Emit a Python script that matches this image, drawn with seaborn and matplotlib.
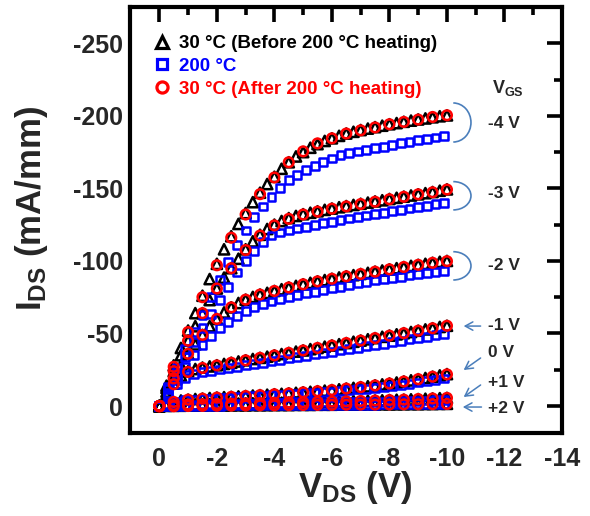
import numpy as np
import pandas as pd
import matplotlib
matplotlib.use("Agg")
import matplotlib.pyplot as plt
import seaborn as sns
from matplotlib.lines import Line2D
from matplotlib.patches import Arc

# ---------------- data ----------------
gates = ["-4 V", "-3 V", "-2 V", "-1 V", "0 V", "+1 V", "+2 V"]

# V_DS sampling of each series
v_before = [0, -0.25, -0.5, -0.75, -1, -1.25, -1.5, -1.75, -2, -2.25, -2.5, -2.75, -3,
            -3.25, -3.5, -3.75, -4, -4.25, -4.5, -4.75, -5, -5.25, -5.5, -5.75, -6,
            -6.25, -6.5, -6.75, -7, -7.25, -7.5, -7.75, -8, -8.25, -8.5, -8.75, -9,
            -9.25, -9.5, -9.75, -10]
v_hot = [0, -0.3, -0.6, -0.9, -1.2, -1.5, -1.8, -2.1, -2.4, -2.7, -3, -3.3, -3.6, -3.9,
         -4.2, -4.5, -4.8, -5.1, -5.4, -5.7, -6, -6.3, -6.6, -6.9, -7.2, -7.5, -7.8,
         -8.1, -8.4, -8.7, -9, -9.3, -9.6, -9.9]
v_after = [0, -0.5, -1, -1.5, -2, -2.5, -3, -3.5, -4, -4.5, -5, -5.5, -6, -6.5, -7,
           -7.5, -8, -8.5, -9, -9.5, -10]

# 30 C, before 200 C heating (triangles)
before_m4 = [0, -14, -28, -40, -52, -64, -76, -87.5, -98, -108, -117, -125.5, -133, -140.5,
             -147, -153, -158, -163.5, -168, -172, -175, -178, -180.5, -182.7, -184.5,
             -186.2, -187.8, -189, -190.2, -191.2, -192.2, -193.2, -194.2, -195, -195.9,
             -196.7, -197.5, -198.2, -199, -199.7, -200.3]
before_m3 = [0, -12.5, -24, -35, -45, -55, -64, -73, -81, -88.5, -95, -101.5, -108, -113.5,
             -118, -122, -125, -127.5, -129.5, -131, -132.2, -133.2, -134.2, -135.2, -136.1,
             -137, -137.8, -138.6, -139.4, -140.2, -141, -141.8, -142.7, -143.5, -144.3,
             -145.1, -145.9, -146.7, -147.5, -148.4, -149.3]
before_m2 = [0, -10, -19, -28, -36, -42.5, -49, -55, -60, -64.5, -68, -71, -73.3, -75.2,
             -76.8, -78, -79.3, -80.5, -81.7, -82.8, -83.9, -84.9, -85.9, -86.8, -87.7,
             -88.6, -89.4, -90.2, -91, -91.8, -92.6, -93.4, -94.2, -95, -95.8, -96.6,
             -97.3, -98, -98.7, -99.4, -100]
before_m1 = [0, -8, -15.5, -21, -24, -25.5, -26.5, -27.3, -28.1, -29, -29.8, -30.7, -31.5,
             -32.4, -33.2, -34, -34.9, -35.8, -36.6, -37.5, -38.3, -39.2, -40, -40.9, -41.7,
             -42.6, -43.4, -44.3, -45.1, -46, -46.8, -47.7, -48.5, -49.4, -50.2, -51,
             -51.9, -52.8, -53.6, -54.5, -55.3]
before_0 = [0, -1.5, -2.8, -3.8, -4.4, -4.8, -5.1, -5.5, -5.8, -6.1, -6.3, -6.6, -6.9, -7.2,
            -7.5, -7.8, -8.1, -8.4, -8.7, -9.1, -9.4, -9.8, -10.2, -10.6, -11, -11.5, -12,
            -12.5, -13, -13.6, -14.2, -14.9, -15.5, -16.2, -16.9, -17.7, -18.5, -19.3,
            -20.2, -21.1, -22]
before_p1 = [0, -0.3, -0.6, -0.8, -1, -1.1, -1.2, -1.3, -1.4, -1.5, -1.6, -1.7, -1.8, -1.9,
             -2, -2.1, -2.2, -2.3, -2.4, -2.5, -2.6, -2.7, -2.8, -2.9, -3, -3.1, -3.2, -3.4,
             -3.5, -3.6, -3.8, -3.9, -4.1, -4.3, -4.4, -4.6, -4.8, -5, -5.2, -5.4, -5.6]
before_p2 = [0, -0.1, -0.2, -0.2, -0.3, -0.3, -0.3, -0.4, -0.4, -0.4, -0.5, -0.5, -0.5,
             -0.6, -0.6, -0.6, -0.7, -0.7, -0.7, -0.8, -0.8, -0.8, -0.9, -0.9, -0.9, -1,
             -1, -1, -1.1, -1.1, -1.1, -1.2, -1.2, -1.2, -1.3, -1.3, -1.3, -1.4, -1.4,
             -1.5, -1.5]

# 200 C (squares)
hot_m4 = [0, -13, -26, -39, -51, -63, -75, -87, -99, -111, -121, -130, -137.5, -144, -150,
          -155.5, -159, -162.5, -165.5, -168.3, -170.6, -172.8, -174.2, -175.4, -176.5,
          -177.6, -178.7, -179.8, -181, -182.1, -183.2, -184.3, -185.1, -186]
hot_m3 = [0, -12, -23, -34, -44, -54, -63.5, -73, -82, -92, -100, -107, -113, -117.5,
          -119.6, -121, -122.3, -123.5, -124.7, -125.9, -127, -128.1, -129.2, -130.3,
          -131.3, -132.3, -133.3, -134.3, -135.2, -136.1, -137, -138, -139, -140]
hot_m2 = [0, -9, -18, -27, -35, -42, -48, -53.5, -58, -62, -65.3, -68, -70.2, -72, -73.6,
          -75, -76.3, -77.6, -78.8, -80, -81.2, -82.3, -83.4, -84.5, -85.5, -86.5, -87.4,
          -88.3, -89.2, -90.1, -90.9, -91.7, -92.5, -93.2]
hot_m1 = [0, -7.5, -15, -19.5, -21.8, -23.3, -24.3, -25.2, -26.1, -27, -28, -28.9, -29.9,
          -30.8, -31.8, -32.7, -33.6, -34.6, -35.5, -36.5, -37.4, -38.3, -39.3, -40.2,
          -41.2, -42.1, -43, -44, -44.9, -45.9, -46.8, -47.7, -48.7, -49.6]
hot_0 = [0, -1.5, -3, -4, -4.5, -4.9, -5.2, -5.5, -5.8, -6.1, -6.4, -6.7, -7, -7.4, -7.7,
         -8, -8.4, -8.8, -9.2, -9.6, -10, -10.5, -11, -11.5, -12, -12.6, -13.2, -13.9,
         -14.6, -15.4, -16.2, -17.1, -18, -19]
hot_p1 = [0, -0.3, -0.6, -0.8, -0.9, -1, -1.1, -1.2, -1.3, -1.4, -1.5, -1.6, -1.7, -1.8,
          -1.9, -2, -2.1, -2.2, -2.3, -2.4, -2.5, -2.6, -2.7, -2.8, -2.9, -3, -3.1, -3.2,
          -3.3, -3.5, -3.6, -3.8, -3.9, -4.1]
hot_p2 = [0, -0.1, -0.1, -0.2, -0.2, -0.3, -0.3, -0.3, -0.4, -0.4, -0.4, -0.5, -0.5, -0.5,
          -0.6, -0.6, -0.6, -0.7, -0.7, -0.7, -0.8, -0.8, -0.8, -0.9, -0.9, -0.9, -1, -1,
          -1, -1.1, -1.1, -1.1, -1.2, -1.2]

# 30 C, after 200 C heating (circles)
after_m4 = [0, -27, -51, -75, -97, -116, -132, -146, -157.5, -168, -175.5, -181, -184.5,
            -187.8, -190, -192, -194.2, -195.8, -197.4, -199.2, -200.4]
after_m3 = [0, -24, -45, -64, -81, -95, -107.5, -117.5, -124.5, -129, -132, -134, -136,
            -137.6, -139.2, -140.8, -142.5, -144.2, -145.9, -147.3, -149.2]
after_m2 = [0, -19, -36, -49, -60, -68, -73.3, -76.8, -79.3, -81.7, -83.9, -85.9, -87.7,
            -89.4, -91, -92.6, -94.2, -95.8, -97.3, -98.7, -99.8]
after_m1 = [0, -15, -23.5, -26.2, -28, -29.8, -31.5, -33.2, -34.9, -36.6, -38.3, -40, -41.7,
            -43.4, -45.1, -46.8, -48.5, -50.2, -51.9, -53.6, -55.3]
after_0 = [0, -2.8, -4.4, -5.1, -5.8, -6.3, -6.9, -7.5, -8.1, -8.7, -9.4, -10.2, -11, -12,
           -13, -14.2, -15.5, -16.9, -18.5, -20.2, -21.8]
after_p1 = [0, -0.6, -1, -1.2, -1.4, -1.6, -1.8, -2, -2.2, -2.4, -2.6, -2.8, -3, -3.2, -3.5,
            -3.8, -4.1, -4.4, -4.8, -5.2, -5.6]
after_p2 = [0.3, 0.2, 0, -0.1, -0.2, -0.3, -0.4, -0.5, -0.5, -0.6, -0.7, -0.8, -0.8, -0.9,
            -1, -1, -1.1, -1.2, -1.2, -1.3, -1.4]

series_labels = ["30 \u00b0C (Before 200 \u00b0C heating)", "200 \u00b0C",
                 "30 \u00b0C (After 200 \u00b0C heating)"]
series_colors = ["#000000", "#0000FF", "#FF0000"]

# ---------------- build long tables ----------------
def long_table(v, curves):
    rows = []
    for g, vals in zip(gates, curves):
        for x, y in zip(v, vals):
            rows.append((g, x, y))
    return pd.DataFrame(rows, columns=["VGS", "VDS", "IDS"])

df_before = long_table(v_before, [before_m4, before_m3, before_m2, before_m1, before_0,
                                  before_p1, before_p2])
df_hot = long_table(v_hot, [hot_m4, hot_m3, hot_m2, hot_m1, hot_0, hot_p1, hot_p2])
df_after = long_table(v_after, [after_m4, after_m3, after_m2, after_m1, after_0,
                                after_p1, after_p2])

# ---------------- style ----------------
sns.set_style("white")
plt.rcParams["font.family"] = ["Liberation Sans", "DejaVu Sans"]
plt.rcParams["font.weight"] = "bold"
plt.rcParams["axes.unicode_minus"] = False
plt.rcParams["mathtext.fontset"] = "custom"
plt.rcParams["mathtext.rm"] = "Liberation Sans:bold"
plt.rcParams["mathtext.it"] = "Liberation Sans:bold"
plt.rcParams["mathtext.bf"] = "Liberation Sans:bold"

fig = plt.figure(figsize=(5.9, 5.16), dpi=100)
ax = fig.add_axes([130 / 590, 1 - 433 / 516, 432 / 590, 426 / 516])

specs = [(df_before, "^", 55, 1), (df_hot, "s", 32, 2), (df_after, "o", 48, 3)]
for (df, mk, size, z), col in zip(specs, series_colors):
    sns.scatterplot(data=df, x="VDS", y="IDS", marker=mk, s=size, color=col,
                    facecolors="none", edgecolor=col, linewidth=1.8, ax=ax,
                    legend=False, zorder=z)

ax.set_xlim(1.02, -14.0)
ax.set_ylim(18.6, -275)
ax.set_xticks([0, -2, -4, -6, -8, -10, -12, -14])
ax.set_xticks([-1, -3, -5, -7, -9, -11, -13], minor=True)
ax.set_yticks([0, -50, -100, -150, -200, -250])
ax.set_yticks([-25, -75, -125, -175, -225], minor=True)

for s in ax.spines.values():
    s.set_linewidth(3)
    s.set_color("black")
ax.tick_params(which="both", direction="in", top=True, right=True, width=2.6,
               color="black")
ax.tick_params(which="major", length=11)
ax.tick_params(which="minor", length=6)
ax.tick_params(axis="x", which="major", labelsize=18, pad=10)
ax.tick_params(axis="y", which="major", labelsize=18, pad=5)
for lab in ax.get_xticklabels() + ax.get_yticklabels():
    lab.set_fontweight("bold")

ax.set_xlabel(r"V$_{\rm DS}$ (V)", fontsize=25, fontweight="bold")
ax.set_ylabel(r"I$_{\rm DS}$ (mA/mm)", fontsize=25, fontweight="bold")
ax.xaxis.set_label_coords(0.521, -0.085)
ax.yaxis.set_label_coords(-0.185, 0.528)

# legend
handles = [Line2D([], [], linestyle="none", marker=m, markersize=ms, markerfacecolor="none",
                  markeredgecolor=c, markeredgewidth=2.3)
           for m, ms, c in zip(["^", "s", "o"], [8.5, 7, 8], series_colors)]
leg = ax.legend(handles, series_labels, loc="upper left", bbox_to_anchor=(0.035, 0.952),
                frameon=False, handlelength=1.0, handletextpad=0.4, labelspacing=0.3,
                borderaxespad=0, prop={"size": 13.5, "weight": "bold"})
for t, c in zip(leg.get_texts(), series_colors):
    t.set_color(c)

# V_GS annotations
ann_col = "#4A7EBB"
ax.text(-11.55, -219, r"V$_{\rm GS}$", fontsize=13, fontweight="bold", ha="left",
        va="center")
label_pos = [("-4 V", -195), ("-3 V", -146.7), ("-2 V", -97), ("-1 V", -55.8),
             ("0 V", -37), ("+1 V", -16.5), ("+2 V", 1.4)]
for txt, yv in label_pos:
    ax.text(-11.42, yv, txt, fontsize=12.5, fontweight="bold", ha="left", va="center")

for yc, h in [(-195.4, 26.9), (-144.9, 19.5), (-96.6, 19.5)]:
    ax.add_patch(Arc((-10.22, yc), 1.23, h, theta1=90, theta2=270, color=ann_col, lw=1.2))

arrows = [((-11.17, -55.1), (-10.58, -55.1)), ((-11.17, -33.1), (-10.58, -24.8)),
          ((-11.17, -14.5), (-10.58, -6.2)), ((-11.2, 0.7), (-10.55, 0.7))]
for tail, head in arrows:
    ax.annotate("", xy=head, xytext=tail,
                arrowprops=dict(arrowstyle="->,head_length=0.55,head_width=0.3",
                                color=ann_col, lw=1.1, shrinkA=0, shrinkB=0))

fig.savefig("out.png", dpi=100)
